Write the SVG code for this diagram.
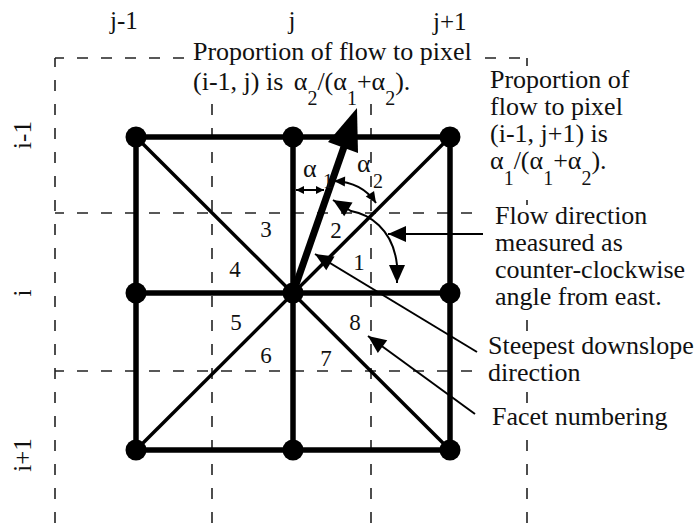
<svg xmlns="http://www.w3.org/2000/svg" width="697" height="526" viewBox="0 0 697 526">
  <defs>
    <style>
      .dash { stroke: #222; stroke-width: 1.6; stroke-dasharray: 11 13; stroke-dashoffset: 2; fill: none; }
      .edge { stroke: #000; stroke-width: 5.5; stroke-linecap: square; fill: none; }
      .diag { stroke: #000; stroke-width: 3.5; fill: none; }
      .node { fill: #000; }
      .lead { stroke: #000; stroke-width: 2; fill: none; }
      .bg { fill: #fff; }
      text { font-family: "Liberation Serif", "Times New Roman", serif; font-size: 26px; fill: #111; }
      .num { font-size: 23px; text-anchor: middle; }
      .sub { font-size: 20px; }
      .ax { font-size: 25px; }
    </style>
    <marker id="ah" viewBox="-20 -10 22 20" refX="0" refY="0" markerWidth="22" markerHeight="20" markerUnits="userSpaceOnUse" orient="auto-start-reverse">
      <path d="M0,0 L-18,-8 L-18,8 Z" fill="#000"/>
    </marker>
    <marker id="ahs" viewBox="-12 -6 14 12" refX="0" refY="0" markerWidth="14" markerHeight="12" markerUnits="userSpaceOnUse" orient="auto-start-reverse">
      <path d="M0,0 L-11,-5 L-11,5 Z" fill="#000"/>
    </marker>
    <marker id="aht" viewBox="-10 -5 12 10" refX="0" refY="0" markerWidth="12" markerHeight="10" markerUnits="userSpaceOnUse" orient="auto-start-reverse">
      <path d="M0,0 L-8,-4 L-8,4 Z" fill="#000"/>
    </marker>
  </defs>

  <rect x="0" y="0" width="697" height="526" fill="#fff"/>

  <g id="cell-boundaries">
    <line class="dash" x1="55" y1="58" x2="527" y2="58"/>
    <line class="dash" x1="55" y1="213" x2="527" y2="213"/>
    <line class="dash" x1="55" y1="371" x2="527" y2="371"/>
    <line class="dash" x1="55" y1="58" x2="55" y2="526"/>
    <line class="dash" x1="212" y1="58" x2="212" y2="526"/>
    <line class="dash" x1="371" y1="58" x2="371" y2="526"/>
    <line class="dash" x1="527" y1="58" x2="527" y2="526"/>
  </g>

  <g id="text-backgrounds">
    <rect class="bg" x="186" y="38" width="296" height="66"/>
    <rect class="bg" x="484" y="66" width="213" height="126"/>
    <rect class="bg" x="480" y="205" width="217" height="108"/>
    <rect class="bg" x="480" y="332" width="217" height="57"/>
    <rect class="bg" x="480" y="404" width="217" height="29"/>
  </g>

  <g id="facets">
    <line class="diag" x1="136" y1="137" x2="450" y2="450"/>
    <line class="diag" x1="450" y1="137" x2="136" y2="450"/>
    <rect class="edge" x="136" y="137" width="314" height="313"/>
    <line class="edge" x1="136" y1="293" x2="450" y2="293"/>
    <line class="edge" x1="293" y1="137" x2="293" y2="450"/>
  </g>

  <g id="connectors">
    <g id="steepest-direction">
      <line x1="293" y1="293" x2="345" y2="144" stroke="#000" stroke-width="7"/>
      <polygon points="357,108 358,153 328,142" fill="#000"/>
    </g>
    <path id="alpha1-span" class="lead" d="M296,190 L324,190" marker-start="url(#aht)" marker-end="url(#aht)"/>
    <path id="alpha2-span" class="lead" d="M334,181 Q362,182 376,203" marker-start="url(#ahs)" marker-end="url(#ahs)"/>
    <path id="flow-angle-arc" class="lead" d="M333,200 L351,211 C368,214 393,228 397,265 L397,283" marker-start="url(#ah)" marker-end="url(#ah)"/>
    <path id="flow-direction-leader" class="lead" d="M483,234 L388,234" marker-end="url(#ah)"/>
    <path id="steepest-leader" class="lead" d="M477,352 L315,254" marker-end="url(#ah)"/>
    <path id="facet-leader" class="lead" d="M475,414 L368,336" marker-end="url(#ah)"/>
  </g>

  <g id="nodes">
    <circle id="node-im1-jm1" class="node" cx="136" cy="137" r="10.5"/>
    <circle id="node-im1-j" class="node" cx="293" cy="137" r="10.5"/>
    <circle id="node-im1-jp1" class="node" cx="450" cy="137" r="10.5"/>
    <circle id="node-i-jm1" class="node" cx="136" cy="293" r="10.5"/>
    <circle id="node-i-j" class="node" cx="293" cy="293" r="10.5"/>
    <circle id="node-i-jp1" class="node" cx="450" cy="293" r="10.5"/>
    <circle id="node-ip1-jm1" class="node" cx="136" cy="450" r="10.5"/>
    <circle id="node-ip1-j" class="node" cx="293" cy="450" r="10.5"/>
    <circle id="node-ip1-jp1" class="node" cx="450" cy="450" r="10.5"/>
  </g>

  <g id="axis-labels">
    <text class="ax" x="110" y="29">j-1</text>
    <text class="ax" x="292" y="29" text-anchor="middle">j</text>
    <text class="ax" x="433" y="30">j+1</text>
    <text class="ax" transform="translate(31,135) rotate(-90)" text-anchor="middle">i-1</text>
    <text class="ax" transform="translate(31,293) rotate(-90)" text-anchor="middle">i</text>
    <text class="ax" transform="translate(31,455) rotate(-90)" text-anchor="middle">i+1</text>
  </g>

  <g id="facet-numbers">
    <text class="num" x="336" y="238">2</text>
    <text class="num" x="359" y="270">1</text>
    <text class="num" x="266" y="237">3</text>
    <text class="num" x="235" y="277">4</text>
    <text class="num" x="236" y="330">5</text>
    <text class="num" x="266" y="363">6</text>
    <text class="num" x="326" y="366">7</text>
    <text class="num" x="355" y="330">8</text>
  </g>

  <g id="angle-labels">
    <text x="303" y="177">α</text>
    <text class="sub" x="323" y="188">1</text>
    <text x="357" y="172">α</text>
    <text class="sub" x="373" y="188">2</text>
  </g>

  <g id="annotations">
    <text x="193" y="60">Proportion of flow to pixel</text>
    <text x="193" y="90">(i-1, j) is <tspan dx="4">α</tspan><tspan class="sub" dy="15">2</tspan><tspan dy="-15">/(α</tspan><tspan class="sub" dy="15">1</tspan><tspan dy="-15">+α</tspan><tspan class="sub" dy="15">2</tspan><tspan dy="-15">).</tspan></text>

    <text x="490" y="88">Proportion of</text>
    <text x="490" y="115">flow to pixel</text>
    <text x="490" y="142">(i-1, j+1) is</text>
    <text x="490" y="169">α<tspan class="sub" dy="16">1</tspan><tspan dy="-16">/(α</tspan><tspan class="sub" dy="16">1</tspan><tspan dy="-16">+α</tspan><tspan class="sub" dy="16">2</tspan><tspan dy="-16">).</tspan></text>

    <text x="495" y="224">Flow direction</text>
    <text x="495" y="251">measured as</text>
    <text x="495" y="278">counter-clockwise</text>
    <text x="495" y="305">angle from east.</text>

    <text x="488" y="354">Steepest downslope</text>
    <text x="488" y="381">direction</text>

    <text x="492" y="425">Facet numbering</text>
  </g>
</svg>
